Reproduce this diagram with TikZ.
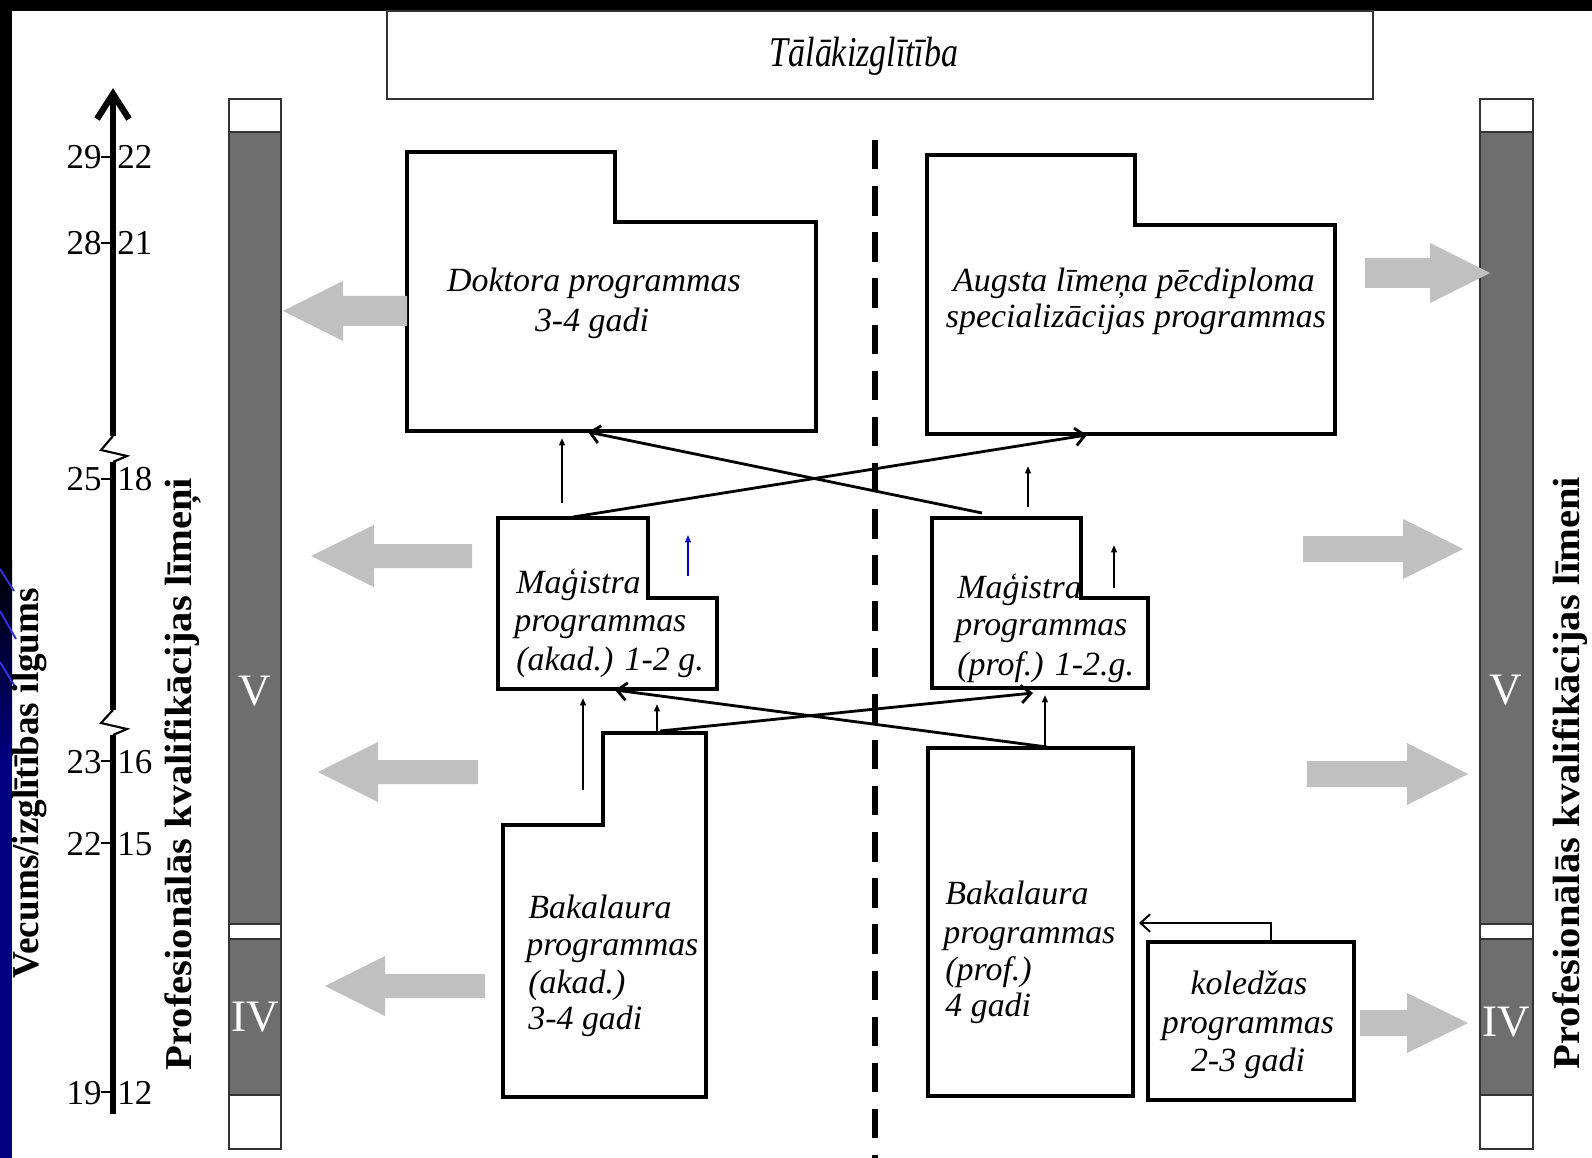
\documentclass[tikz,border=0pt]{standalone}
\usepackage{fontspec}
\setmainfont{Liberation Serif}
\usetikzlibrary{arrows.meta}
\definecolor{bargray}{RGB}{110,110,110}
\definecolor{arrgray}{RGB}{192,192,192}
\definecolor{slidenavy}{RGB}{0,0,128}
\definecolor{slideline}{RGB}{50,50,220}
\definecolor{smallblue}{RGB}{0,0,200}
\newcommand{\boxfont}{\fontsize{19.3}{22}\selectfont\itshape}
\newcommand{\numfont}{\fontsize{19.9}{22}\selectfont}
\newcommand{\labfont}{\fontsize{21.6}{24}\selectfont\bfseries}
\newcommand{\romfont}{\fontsize{25.6}{28}\selectfont}
% tip x, y, back x, end x, shaft half, head half
\newcommand{\grayarrow}[6]{%
  \fill[arrgray] (#4,#2-#5) -- (#3,#2-#5) -- (#3,#2-#6) -- (#1,#2) -- (#3,#2+#6) -- (#3,#2+#5) -- (#4,#2+#5) -- cycle;}
\begin{document}
\begin{tikzpicture}[x=0.02cm,y=-0.02cm,
  boxline/.style={line width=2.8pt, line join=miter},
  txt/.style={font=\boxfont, inner sep=0pt},
  upar/.style={line width=1.1pt, -{Triangle[length=4.2pt,width=3.2pt]}},
  crossar/.style={line width=1.6pt, -{Straight Barb[length=5.5pt,width=10pt]}},
  num/.style={font=\numfont, inner sep=0pt},
  vlab/.style={rotate=90, font=\labfont, inner sep=0pt},
  rom/.style={font=\romfont, text=white, inner sep=0pt}]
\useasboundingbox (0,0) rectangle (1592,1158);
\fill[white] (0,0) rectangle (1592,1158);
% slide background
\fill[black] (0,0) rectangle (1592,11);
\fill[black] (0,0) rectangle (12,560);
\shade[top color=black,bottom color=slidenavy] (0,560) rectangle (12,760);
\fill[slidenavy] (0,760) rectangle (12,1158);
\draw[slideline, line width=1.1pt] (0,569) -- (14,591);
\draw[slideline, line width=1.1pt] (0,611) -- (16,639);
\draw[slideline, line width=1.1pt] (0,662) -- (16,688);

% qualification bars
\foreach \xa/\xb in {229/281,1480/1533}{
  \fill[bargray] (\xa,132) rectangle (\xb,924);
  \fill[bargray] (\xa,939) rectangle (\xb,1095);
  \draw[line width=0.9pt, black!80] (\xa,99) rectangle (\xb,1149);
  \draw[line width=0.9pt, black!80] (\xa,132) -- (\xb,132) (\xa,924) -- (\xb,924)
        (\xa,939) -- (\xb,939) (\xa,1095) -- (\xb,1095);
}
\node (lV)  [rom] at (255,691)  {V};
\node (lIV) [rom] at (255,1017) {IV};
\node (rV)  [rom] at (1506,690) {V};
\node (rIV) [rom] at (1506,1022) {IV};

% vertical labels
\node (vec)   [vlab] at (30,783)   {\scalebox{0.98}[1]{Vecums/izglītības ilgums}};
\node (profL) [vlab] at (183,774)  {\scalebox{1.07}[1]{Profesionālās kvalifikācijas līmeņi}};
\node (profR) [vlab] at (1570,773) {\scalebox{1.07}[1]{Profesionālās kvalifikācijas līmeni}};

% age axis
\draw[line width=3.6pt] (113,1114) -- (113,735);
\draw[line width=1.2pt] (113,710) -- (101,723) -- (127,729) -- (113,735);
\draw[line width=3.6pt] (113,710) -- (113,462);
\draw[line width=1.2pt] (113,436) -- (101,450) -- (127,456) -- (113,462);
\draw[line width=3.6pt] (113,436) -- (113,100);
\draw[line width=3.6pt, line join=miter] (97,119) -- (113,94) -- (129,119);
\foreach \l/\r/\yy in {29/22/169,28/21/255,25/18/491,23/16/773,22/15/855,19/12/1104}{
  \node (nl\yy) [num, anchor=base east] at (102,\yy) {\l};
  \node (nr\yy) [num, anchor=base west] at (117,\yy) {\r};
  \draw[line width=0.9pt] (101,\yy-12) -- (113,\yy-12);
}

% top box
\draw[line width=0.8pt, black!80] (387,11) rectangle (1373,99);
\node (tala) [anchor=base, inner sep=0pt] at (864,67) {\scalebox{1}[1.25]{\boxfont Tālākizglītība}};

% dashed divider
\draw[line width=3.4pt, dash pattern=on 0.59cm off 0.333cm] (875,140) -- (875,1158);

% texts
\node (dok1) [txt, anchor=base] at (594,292) {Doktora programmas};
\node (dok2) [txt, anchor=base] at (592,332) {3-4 gadi};
\node (aug1) [txt, anchor=base] at (1134,292) {Augsta līmeņa pēcdiploma};
\node (aug2) [txt, anchor=base] at (1136,328) {specializācijas programmas};
\node (ma1) [txt, anchor=base west] at (516,593) {Maģistra};
\node (ma2) [txt, anchor=base west] at (514,631) {programmas};
\node (ma3) [txt, anchor=base west] at (516,670) {(akad.) 1-2 g.};
\node (mp1) [txt, anchor=base west] at (957,598) {Maģistra};
\node (mp2) [txt, anchor=base west] at (955,635) {programmas};
\node (mp3) [txt, anchor=base west] at (957,675) {(prof.) 1-2.g.};
\node (ba1) [txt, anchor=base west] at (528,918) {Bakalaura};
\node (ba2) [txt, anchor=base west] at (526,955) {programmas};
\node (ba3) [txt, anchor=base west] at (528,993) {(akad.)};
\node (ba4) [txt, anchor=base west] at (528,1029) {3-4 gadi};
\node (bp1) [txt, anchor=base west] at (945,904) {Bakalaura};
\node (bp2) [txt, anchor=base west] at (943,943) {programmas};
\node (bp3) [txt, anchor=base west] at (945,980) {(prof.)};
\node (bp4) [txt, anchor=base west] at (945,1016) {4 gadi};
\node (ko1) [txt, anchor=base] at (1249,994) {koledžas};
\node (ko2) [txt, anchor=base] at (1248,1033) {programmas};
\node (ko3) [txt, anchor=base] at (1248,1071) {2-3 gadi};

% programme boxes
\draw[boxline] (407,152) -- (615,152) -- (615,222) -- (816,222) -- (816,431) -- (407,431) -- cycle;
\draw[boxline] (927,155) -- (1135,155) -- (1135,225) -- (1335,225) -- (1335,434) -- (927,434) -- cycle;
\draw[boxline] (498,518) -- (648,518) -- (648,598) -- (717,598) -- (717,689) -- (498,689) -- cycle;
\draw[boxline] (932,518) -- (1081,518) -- (1081,598) -- (1148,598) -- (1148,688) -- (932,688) -- cycle;
\draw[boxline] (603,733) -- (706,733) -- (706,1097) -- (503,1097) -- (503,825) -- (603,825) -- cycle;
\draw[boxline] (928,748) rectangle (1133,1096);
\draw[boxline] (1148,942) rectangle (1354,1100);

% connector end points
\coordinate (maT1) at (562,503);  \coordinate (dokB1) at (562,438);
\coordinate (maT2) at (573,517);  \coordinate (augB) at (1087,435);
\coordinate (mpT1) at (982,513);  \coordinate (dokB2) at (588,432);
\coordinate (mpT2) at (1028,507); \coordinate (augU) at (1028,466);
\coordinate (blueS) at (688,576); \coordinate (blueE) at (688,535);
\coordinate (mpS) at (1114,588);  \coordinate (mpE) at (1114,545);
\coordinate (baS) at (583,790);   \coordinate (maB1) at (583,698);
\coordinate (baT1) at (657,732);  \coordinate (maB2) at (657,704);
\coordinate (baT2) at (660,731);  \coordinate (mpB1) at (1033,693);
\coordinate (bpT1) at (1047,747); \coordinate (maB3) at (615,690);
\coordinate (bpT2) at (1045,747); \coordinate (mpB2) at (1045,695);
\coordinate (koT) at (1271,942);  \coordinate (bpR) at (1139,923);

% thin connectors
\draw[upar] (maT1) -- (dokB1);
\draw[crossar] (maT2) -- (augB);
\draw[crossar] (mpT1) -- (dokB2);
\draw[upar] (mpT2) -- (augU);
\draw[upar, smallblue, line width=0.9pt] (blueS) -- (blueE);
\draw[upar] (mpS) -- (mpE);
\draw[upar] (baS) -- (maB1);
\draw[upar] (baT1) -- (maB2);
\draw[crossar] (baT2) -- (mpB1);
\draw[crossar] (bpT1) -- (maB3);
\draw[upar] (bpT2) -- (mpB2);
\draw[crossar, line width=1.1pt] (koT) |- (bpR);

% grey arrows to qualification levels
\grayarrow{283}{311}{343}{407}{15}{30}
\grayarrow{311}{556}{374}{472}{12}{31}
\grayarrow{318}{772}{378}{478}{12}{30}
\grayarrow{325}{986}{385}{485}{12}{30}
\grayarrow{1490}{273}{1430}{1365}{15}{30}
\grayarrow{1463}{549}{1403}{1303}{13}{30}
\grayarrow{1468}{774}{1407}{1307}{13}{31}
\grayarrow{1468}{1023}{1407}{1360}{13}{30}
\end{tikzpicture}
\end{document}
